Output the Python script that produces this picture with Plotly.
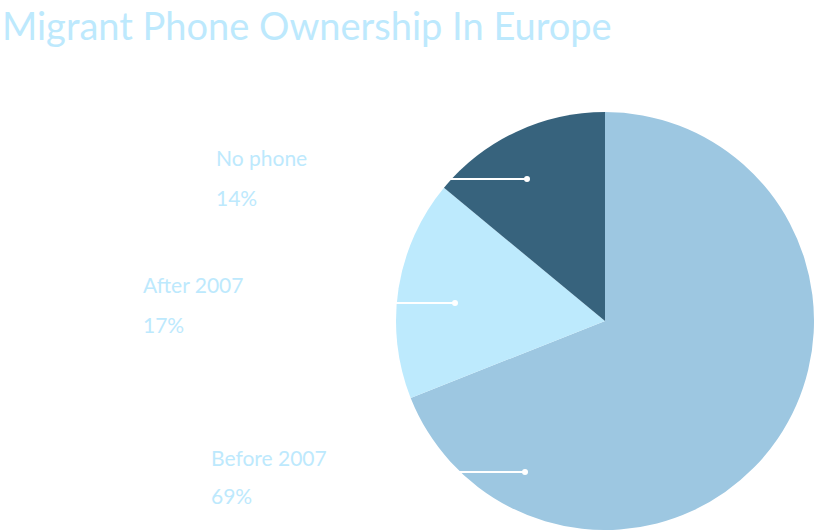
import plotly.graph_objects as go

W, H = 814, 530

categories = ["Before 2007", "After 2007", "No phone"]
values = [69, 17, 14]
colors = ["#9dc7e1", "#bdeafd", "#37637d"]
title_text = "Migrant Phone Ownership In Europe"

TEXT_COLOR = "#bde9fd"
FONT = "Lato"

def px(x):
    return x / W

def py(y):
    return 1 - y / H

fig = go.Figure()
fig.add_trace(go.Pie(
    labels=categories,
    values=values,
    marker=dict(colors=colors, line=dict(width=0)),
    sort=False,
    direction="clockwise",
    rotation=0,
    textinfo="none",
    hoverinfo="label+percent",
    showlegend=False,
    domain=dict(x=[px(396), px(814)], y=[py(530), py(112)]),
))

# label layout: (label x, label y, pct y, line start x, dot x, dot y)
label_layout = [
    (209, 457, 495, 300, 525, 472),   # Before 2007
    (141, 284, 324, 240, 455, 303),   # After 2007
    (214, 158, 198, 330, 527, 179),   # No phone
]

shapes = []
annotations = []
total = sum(values)
for cat, val, (lx, ly, pyy, sx, dx, dy) in zip(categories, values, label_layout):
    annotations.append(dict(
        x=px(lx), y=py(ly), xref="paper", yref="paper",
        text=cat, showarrow=False, xanchor="left", yanchor="middle",
        font=dict(family=FONT, size=21, color=TEXT_COLOR),
    ))
    annotations.append(dict(
        x=px(lx), y=py(pyy), xref="paper", yref="paper",
        text=f"{round(val / total * 100)}%", showarrow=False,
        xanchor="left", yanchor="middle",
        font=dict(family=FONT, size=21, color=TEXT_COLOR),
    ))
    shapes.append(dict(
        type="line", xref="paper", yref="paper",
        x0=px(sx), y0=py(dy), x1=px(dx), y1=py(dy),
        line=dict(color="white", width=2), layer="above",
    ))
    shapes.append(dict(
        type="circle", xref="paper", yref="paper",
        x0=px(dx - 3), y0=py(dy - 3), x1=px(dx + 3), y1=py(dy + 3),
        fillcolor="white", line=dict(color="white", width=0), layer="above",
    ))

annotations.append(dict(
    x=0, y=py(0), xref="paper", yref="paper",
    text=title_text, showarrow=False, xanchor="left", yanchor="top",
    font=dict(family=FONT, size=38, color=TEXT_COLOR),
))

fig.update_layout(
    width=W, height=H,
    margin=dict(l=0, r=0, t=0, b=0),
    paper_bgcolor="white", plot_bgcolor="white",
    shapes=shapes, annotations=annotations,
)

fig.write_html(
    "out.html",
    config={"displayModeBar": False},
    post_script="document.body.style.margin='0';document.body.style.padding='0';",
)
